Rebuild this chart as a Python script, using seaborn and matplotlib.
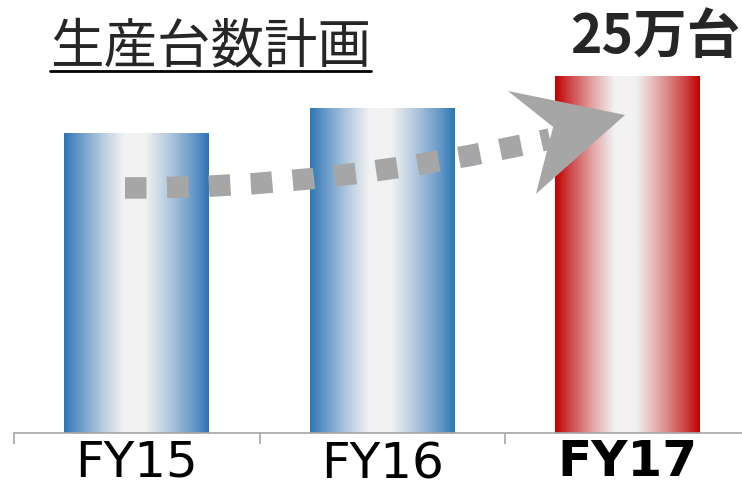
import numpy as np
import pandas as pd
import matplotlib
matplotlib.use("Agg")
import matplotlib.pyplot as plt
import seaborn as sns
from matplotlib.colors import LinearSegmentedColormap, to_rgb
from matplotlib.path import Path
from matplotlib.patches import PathPatch, Polygon
from matplotlib.transforms import ScaledTranslation
from matplotlib.lines import Line2D

# ---- data ----
categories = ["FY15", "FY16", "FY17"]
values = [21.0, 22.75, 25.0]          # 万台
edge_colors = ["#2E75B6", "#2E75B6", "#C00000"]
title_text = "生産台数計画"
annotation_text = "25万台"

sns.set_theme(style="white")
plt.rcParams['font.family'] = ['DejaVu Sans', 'Noto Sans CJK JP']

W, H = 742, 489
fig = plt.figure(figsize=(W / 100, H / 100), dpi=100)
ax = fig.add_axes([14 / W, 55 / H, (W - 14) / W, 434 / H])

df = pd.DataFrame({"cat": categories, "val": values})
sns.barplot(data=df, x="cat", y="val", hue="cat", palette=edge_colors,
            width=0.59, legend=False, ax=ax, saturation=1)

XLIM = (-0.5, -0.5 + (W - 14) / 245.5)
YLIM = (0, 25 * 434 / 357)

# gradient fill for each bar
light = np.array(to_rgb("#F2F2F2"))
xs = np.linspace(0, 1, 256)
for patch, ec in zip(ax.patches, edge_colors):
    c = np.array(to_rgb(ec))
    mix = lambda a: a * c + (1 - a) * light
    cmap = LinearSegmentedColormap.from_list(
        "g", [(0.0, c), (0.1, mix(0.72)), (0.25, mix(0.34)), (0.41, light),
              (0.56, light), (0.74, mix(0.36)), (0.9, mix(0.72)), (1.0, c)])
    grad = cmap(xs)[None, :, :]
    x0, y0 = patch.get_x(), patch.get_y()
    w, h = patch.get_width(), patch.get_height()
    im = ax.imshow(grad, extent=[x0, x0 + w, y0, y0 + h], aspect="auto",
                   zorder=patch.get_zorder(), interpolation="bilinear")
    im.set_clip_path(patch)
    patch.set_facecolor("none")
    patch.set_edgecolor("none")
ax.set_xlim(*XLIM)
ax.set_ylim(*YLIM)

# spines / ticks
for s in ["top", "right", "left"]:
    ax.spines[s].set_visible(False)
ax.spines["bottom"].set_color("#A6A6A6")
ax.spines["bottom"].set_linewidth(1.2)
ax.set_yticks([])
ax.set_xlabel("")
ax.set_ylabel("")
ax.set_xticks(range(len(categories)))
ax.set_xticks([-0.5, 0.5, 1.5], minor=True)
ax.tick_params(axis="x", which="major", length=0, pad=3, labelsize=36,
               labelcolor="black")
ax.tick_params(axis="x", which="minor", length=8, width=1.2,
               color="#A6A6A6", direction="out", bottom=True)
ax.set_xticklabels(categories)
labels = ax.get_xticklabels()
labels[2].set_fontweight("bold")
labels[1].set_transform(labels[1].get_transform() +
                        ScaledTranslation(0, -2 / 100, fig.dpi_scale_trans))

# dotted curved arrow
P0 = (-0.048, 17.16)
P1 = (0.787, 17.09)
P2 = (1.683, 20.59)
curve = Path([P0, P1, P2], [Path.MOVETO, Path.CURVE3, Path.CURVE3])
ax.add_patch(PathPatch(curve, facecolor="none", edgecolor="#A6A6A6",
                       linewidth=15.5, linestyle=(0, (1.0, 0.95)),
                       capstyle="butt", zorder=5))
head = Polygon([(1.512, 23.95), (1.989, 22.27), (1.626, 16.74), (1.696, 21.43)],
               closed=True, facecolor="#A6A6A6", edgecolor="none", zorder=6)
ax.add_patch(head)

# texts
t = fig.text(50 / W, 1 - 47 / H, title_text, fontsize=38.5,
             family=['Noto Sans CJK JP', 'DejaVu Sans'], va="center", ha="left")
fig.text(740 / W, 1 - 37 / H, annotation_text, fontsize=38.5, fontweight="bold",
         family=['Noto Sans CJK JP', 'DejaVu Sans'], va="center", ha="right")

fig.canvas.draw()
bb = t.get_window_extent()
fig.add_artist(Line2D([bb.x0 / W, bb.x1 / W], [1 - 72 / H, 1 - 72 / H],
                      transform=fig.transFigure, color="black", linewidth=2))

fig.savefig("out.png", dpi=100)
